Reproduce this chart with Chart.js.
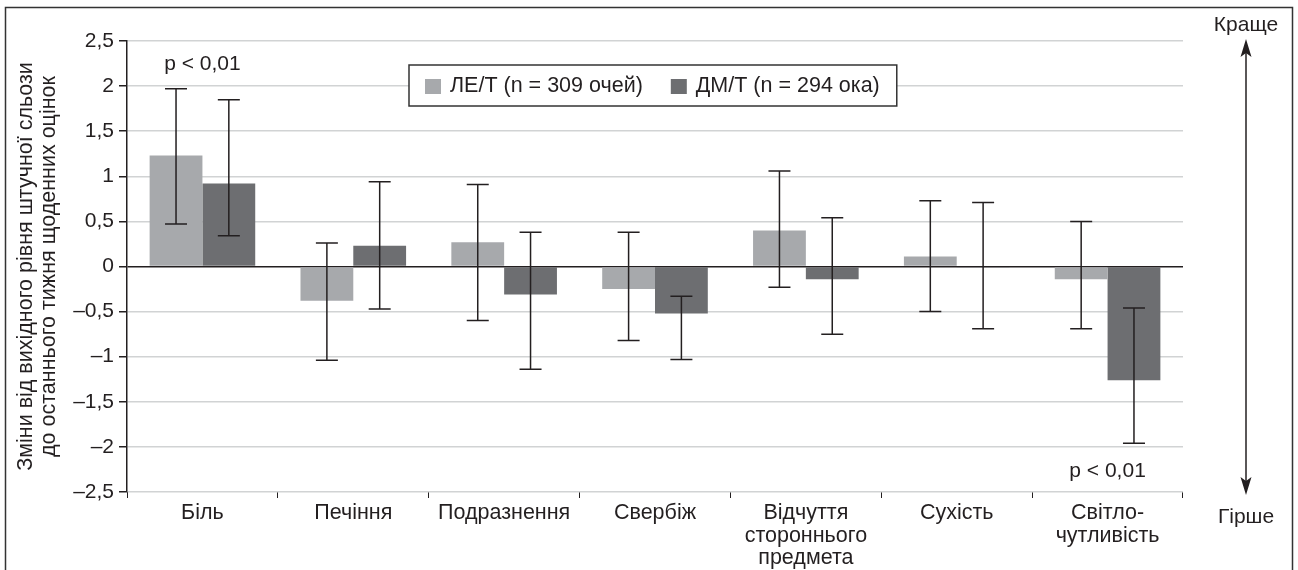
<!DOCTYPE html>
<html>
<head>
<meta charset="utf-8">
<script src="https://cdn.jsdelivr.net/npm/chart.js@4.4.1/dist/chart.umd.min.js"></script>
<style>
  html, body { margin: 0; padding: 0; background: #fff; overflow: hidden; }
  canvas { display: block; }
</style>
</head>
<body>
<canvas id="mainGraph" width="1298" height="570" style="width:1298px;height:570px"></canvas>
<script>
// categories (multi-line labels as arrays)
var categories = ['Біль', 'Печіння', 'Подразнення', 'Свербіж',
    ['Відчуття', 'стороннього', 'предмета'], 'Сухість', ['Світло-', 'чутливість']];

// ЛЕ/Т
var leMean = [1.23, -0.38, 0.27, -0.25, 0.40, 0.11, -0.14];
var leLow  = [0.47, -1.04, -0.60, -0.82, -0.23, -0.50, -0.69];
var leHigh = [1.97, 0.26, 0.91, 0.38, 1.06, 0.73, 0.50];

// ДМ/Т
var dmMean = [0.92, 0.23, -0.31, -0.52, -0.14, -0.01, -1.26];
var dmLow  = [0.34, -0.47, -1.14, -1.03, -0.75, -0.69, -1.96];
var dmHigh = [1.85, 0.94, 0.38, -0.33, 0.54, 0.71, -0.46];

var seriesNames = ['ЛЕ/Т (n = 309 очей)', 'ДМ/Т (n = 294 ока)'];
var yTicks = [-2.5, -2, -1.5, -1, -0.5, 0, 0.5, 1, 1.5, 2, 2.5];
var yTitle = ['Зміни від вихідного рівня штучної сльози', 'до останнього тижня щоденних оцінок'];
var pNotes = [{ cat: 0, value: 2.24, text: 'p < 0,01' }, { cat: 6, value: -2.27, text: 'p < 0,01' }];
var dirLabels = ['Краще', 'Гірше'];

var INK = '#231f20';
var FONT = '"Liberation Sans", Arial, sans-serif';

function fmt(v) {
    return String(v).replace('.', ',').replace('-', '–');
}

// error bars, legend, annotations, frame and arrow
var extras = {
    id: 'extras',
    afterDatasetsDraw: function (chart) {
        var ctx = chart.ctx;
        var y = chart.scales.y;
        ctx.save();
        ctx.strokeStyle = INK;
        ctx.lineWidth = 1.5;
        var lows = [leLow, dmLow], highs = [leHigh, dmHigh];
        for (var d = 0; d < 2; d++) {
            var meta = chart.getDatasetMeta(d);
            meta.data.forEach(function (bar, i) {
                var x = bar.x;
                var top = y.getPixelForValue(highs[d][i]);
                var bot = y.getPixelForValue(lows[d][i]);
                ctx.beginPath();
                ctx.moveTo(x, top); ctx.lineTo(x, bot);
                ctx.moveTo(x - 11, top); ctx.lineTo(x + 11, top);
                ctx.moveTo(x - 11, bot); ctx.lineTo(x + 11, bot);
                ctx.stroke();
            });
        }
        ctx.restore();
    },
    afterDraw: function (chart) {
        var ctx = chart.ctx;
        var area = chart.chartArea;
        var xs = chart.scales.x, ys = chart.scales.y;
        ctx.save();
        ctx.font = '21px ' + FONT;
        ctx.fillStyle = INK;

        // p-value notes
        ctx.textAlign = 'center';
        ctx.textBaseline = 'middle';
        pNotes.forEach(function (n) {
            ctx.fillText(n.text, xs.getPixelForValue(n.cat), ys.getPixelForValue(n.value));
        });

        // legend box
        ctx.font = '21.5px ' + FONT;
        var lx = area.left + 282, ly = area.top + 24, lh = 41;
        var x = lx + 16;
        var parts = [];
        chart.data.datasets.forEach(function (ds, i) {
            var w = ctx.measureText(ds.label).width;
            parts.push({ x: x, color: ds.backgroundColor, label: ds.label });
            x += 16 + 9 + w + (i === 0 ? 28 : 17);
        });
        ctx.fillStyle = '#fff';
        ctx.fillRect(lx, ly, x - lx, lh);
        ctx.strokeStyle = '#333';
        ctx.lineWidth = 1.5;
        ctx.strokeRect(lx, ly, x - lx, lh);
        ctx.textAlign = 'left';
        parts.forEach(function (p) {
            ctx.fillStyle = p.color;
            ctx.fillRect(p.x, ly + 14, 16, 15);
            ctx.fillStyle = INK;
            ctx.fillText(p.label, p.x + 25, ly + lh / 2 + 1);
        });

        // better / worse arrow
        ctx.font = '21px ' + FONT;
        var ax = area.right + 63;
        var aTop = area.top - 2, aBot = area.bottom + 3;
        ctx.strokeStyle = INK;
        ctx.lineWidth = 1.5;
        ctx.beginPath();
        ctx.moveTo(ax, aTop + 10); ctx.lineTo(ax, aBot - 10);
        ctx.stroke();
        ctx.beginPath();
        ctx.moveTo(ax, aTop); ctx.lineTo(ax - 5.5, aTop + 18); ctx.lineTo(ax, aTop + 14); ctx.lineTo(ax + 5.5, aTop + 18);
        ctx.closePath();
        ctx.moveTo(ax, aBot); ctx.lineTo(ax - 5.5, aBot - 18); ctx.lineTo(ax, aBot - 14); ctx.lineTo(ax + 5.5, aBot - 18);
        ctx.closePath();
        ctx.fillStyle = INK;
        ctx.fill();
        ctx.textAlign = 'center';
        ctx.fillText(dirLabels[0], ax, aTop - 14);
        ctx.fillText(dirLabels[1], ax, aBot + 22);

        // outer frame (bottom edge runs off the picture)
        ctx.strokeStyle = '#333';
        ctx.lineWidth = 1.5;
        ctx.beginPath();
        ctx.moveTo(5.5, 572); ctx.lineTo(5.5, 7.5); ctx.lineTo(1292.5, 7.5); ctx.lineTo(1292.5, 572);
        ctx.stroke();
        ctx.restore();
    }
};

Chart.defaults.font.family = FONT;
Chart.defaults.color = INK;

var ctx = document.getElementById('mainGraph').getContext('2d');
var chart = new Chart(ctx, {
    type: 'bar',
    data: {
        labels: categories,
        datasets: [
            { label: seriesNames[0], data: leMean, backgroundColor: '#a7a9ac', borderWidth: 0 },
            { label: seriesNames[1], data: dmMean, backgroundColor: '#6d6e71', borderWidth: 0 }
        ]
    },
    options: {
        responsive: false,
        maintainAspectRatio: false,
        animation: false,
        devicePixelRatio: 1,
        layout: { padding: { left: 0, right: 115, top: 41, bottom: 0 } },
        plugins: { legend: { display: false }, tooltip: { enabled: false } },
        datasets: { bar: { categoryPercentage: 0.7, barPercentage: 1 } },
        scales: {
            x: {
                grid: { display: true, drawOnChartArea: false, color: INK, lineWidth: 1, tickLength: 6 },
                border: { display: false },
                ticks: { font: { size: 21.5, lineHeight: 1.05 }, padding: 4, maxRotation: 0, autoSkip: false, color: INK },
                afterFit: function (s) { s.height = 78; }
            },
            y: {
                min: -2.5, max: 2.5,
                afterBuildTicks: function (s) { s.ticks = yTicks.map(function (v) { return { value: v }; }); },
                grid: {
                    color: function (c) { return c.tick && c.tick.value === 0 ? INK : '#d1d3d4'; },
                    tickColor: INK,
                    lineWidth: 1.5,
                    tickLength: 8
                },
                border: { color: INK, width: 1.5 },
                ticks: { font: { size: 21 }, padding: 5, color: INK, callback: function (v) { return fmt(v); } },
                title: { display: true, text: yTitle, font: { size: 21.5, lineHeight: 1.1 }, padding: { top: 14, bottom: 0 }, color: INK },
                afterFit: function (s) { s.width = 127; }
            }
        }
    },
    plugins: [extras]
});
</script>
</body>
</html>
